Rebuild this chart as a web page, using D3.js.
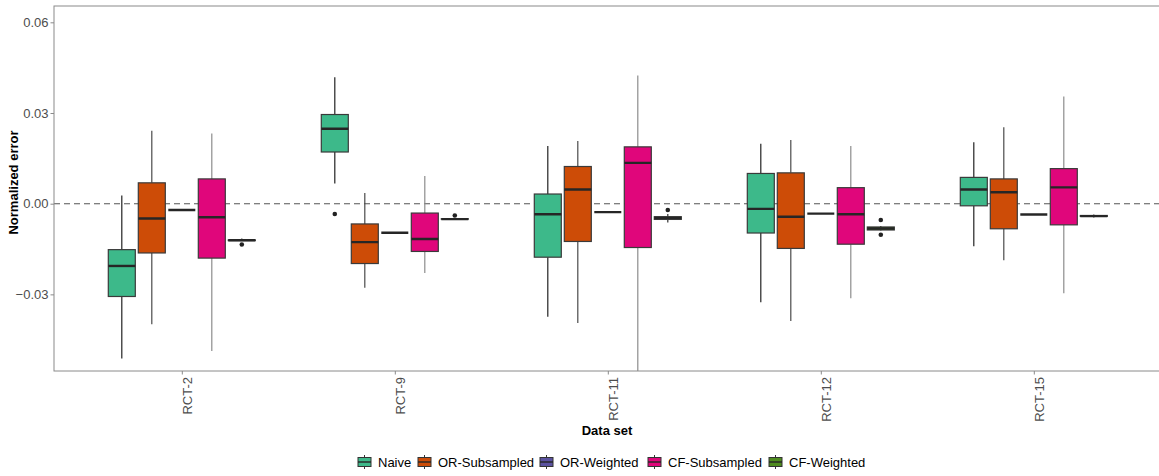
<!DOCTYPE html>
<html>
<head>
<meta charset="utf-8">
<script src="https://cdn.jsdelivr.net/npm/d3@7"></script>
<style>
  body { margin: 0; background: #fff; }
  svg { display: block; font-family: "Liberation Sans", Arial, sans-serif; }
</style>
</head>
<body>
<svg id="chart" width="1159" height="476"></svg>
<script>
// Data sets and estimation methods
const datasets = ["RCT-2", "RCT-9", "RCT-11", "RCT-12", "RCT-15"];
const methods = ["Naive", "OR-Subsampled", "OR-Weighted", "CF-Subsampled", "CF-Weighted"];
const methodColors = ["#3db98a", "#cd4c07", "#5b52a0", "#e0067b", "#4f8c1f"];
const whiskerColors = ["#222222", "#4a4a4a", "#333333", "#8c8c8c", "#333333"];

// Box statistics per data set: [lower whisker, Q1, median, Q3, upper whisker]
const naiveStats = [
  [-0.0512, -0.0307, -0.0206, -0.0152, 0.0027],
  [0.0067, 0.0171, 0.0248, 0.0295, 0.0418],
  [-0.0374, -0.0177, -0.0035, 0.0032, 0.0191],
  [-0.0326, -0.0097, -0.0017, 0.0100, 0.0198],
  [-0.0141, -0.0007, 0.0047, 0.0087, 0.0203]
];
const orSubStats = [
  [-0.0399, -0.0163, -0.0049, 0.0069, 0.0241],
  [-0.0278, -0.0198, -0.0127, -0.0067, 0.0035],
  [-0.0395, -0.0125, 0.0047, 0.0123, 0.0207],
  [-0.0388, -0.0148, -0.0043, 0.0102, 0.0211],
  [-0.0187, -0.0083, 0.0038, 0.0082, 0.0253]
];
const orWeightedStats = [
  [-0.0021, -0.0021, -0.0021, -0.0021, -0.0021],
  [-0.0096, -0.0096, -0.0096, -0.0096, -0.0096],
  [-0.0028, -0.0028, -0.0028, -0.0028, -0.0028],
  [-0.0033, -0.0033, -0.0033, -0.0033, -0.0033],
  [-0.0036, -0.0036, -0.0036, -0.0036, -0.0036]
];
const cfSubStats = [
  [-0.0487, -0.0180, -0.0045, 0.0082, 0.0232],
  [-0.0229, -0.0158, -0.0117, -0.0031, 0.0092],
  [-0.0650, -0.0145, 0.0135, 0.0188, 0.0424],
  [-0.0313, -0.0134, -0.0035, 0.0053, 0.0191],
  [-0.0296, -0.0070, 0.0054, 0.0116, 0.0355]
];
const cfWeightedStats = [
  [-0.0122, -0.0122, -0.0121, -0.0120, -0.0115],
  [-0.0051, -0.0051, -0.0051, -0.0050, -0.0050],
  [-0.0062, -0.0052, -0.0047, -0.0043, -0.0034],
  [-0.0089, -0.0087, -0.0082, -0.0077, -0.0074],
  [-0.0046, -0.0042, -0.0041, -0.0039, -0.0036]
];
// Outlying points: [data set, method, value]
const outliers = [
  ["RCT-2", "CF-Weighted", -0.0135],
  ["RCT-9", "Naive", -0.0034],
  ["RCT-9", "CF-Weighted", -0.0039],
  ["RCT-11", "CF-Weighted", -0.0021],
  ["RCT-12", "CF-Weighted", -0.0054],
  ["RCT-12", "CF-Weighted", -0.0103]
];
const yTicks = [-0.03, 0.00, 0.03, 0.06];

const allStats = [naiveStats, orSubStats, orWeightedStats, cfSubStats, cfWeightedStats];
const boxes = [];
methods.forEach((m, mi) => {
  datasets.forEach((d, di) => {
    const s = allStats[mi][di];
    boxes.push({ dataset: d, method: m, mi, lo: s[0], q1: s[1], med: s[2], q3: s[3], hi: s[4] });
  });
});

const svg = d3.select("#chart");
const panel = { left: 54, top: 6, right: 1161.6, bottom: 371 };

const x = d3.scalePoint().domain(datasets).range([panel.left, panel.right]).padding(0.6);
const xInner = d3.scaleBand().domain(methods).range([-75, 75]).paddingInner(0.1).paddingOuter(0.05);
const y = d3.scaleLinear().domain([-0.05535, 0.0654]).range([panel.bottom, panel.top]);

const defs = svg.append("defs");
defs.append("clipPath").attr("id", "plotclip")
  .append("rect")
  .attr("x", panel.left).attr("y", panel.top)
  .attr("width", panel.right - panel.left).attr("height", panel.bottom - panel.top);

// Reference line at zero
svg.append("line")
  .attr("x1", panel.left).attr("x2", panel.right)
  .attr("y1", y(0)).attr("y2", y(0))
  .attr("stroke", "#555").attr("stroke-width", 1.1)
  .attr("stroke-dasharray", "6,4");

const plot = svg.append("g").attr("clip-path", "url(#plotclip)");

const g = plot.selectAll("g.box").data(boxes).join("g")
  .attr("class", "box")
  .attr("transform", d => `translate(${x(d.dataset) + xInner(d.method)},0)`);

const bw = xInner.bandwidth();

// Whiskers
g.append("line")
  .attr("x1", bw / 2).attr("x2", bw / 2)
  .attr("y1", d => y(d.hi)).attr("y2", d => y(d.q3))
  .attr("stroke", d => whiskerColors[d.mi]).attr("stroke-width", 1.2);
g.append("line")
  .attr("x1", bw / 2).attr("x2", bw / 2)
  .attr("y1", d => y(d.q1)).attr("y2", d => y(d.lo))
  .attr("stroke", d => whiskerColors[d.mi]).attr("stroke-width", 1.2);

// Boxes
g.append("rect")
  .attr("x", 0).attr("width", bw)
  .attr("y", d => y(d.q3))
  .attr("height", d => Math.max(0, y(d.q1) - y(d.q3)))
  .attr("fill", d => methodColors[d.mi])
  .attr("stroke", "#3a3a3a").attr("stroke-width", 1.2);

// Medians
g.append("line")
  .attr("x1", 0).attr("x2", bw)
  .attr("y1", d => y(d.med)).attr("y2", d => y(d.med))
  .attr("stroke", "#262626").attr("stroke-width", 2.4);

// Outliers
plot.selectAll("circle.out").data(outliers).join("circle")
  .attr("class", "out")
  .attr("cx", d => x(d[0]) + xInner(d[1]) + bw / 2)
  .attr("cy", d => y(d[2]))
  .attr("r", 2.3)
  .attr("fill", "#222");

// Panel border
svg.append("rect")
  .attr("x", panel.left).attr("y", panel.top)
  .attr("width", panel.right - panel.left).attr("height", panel.bottom - panel.top)
  .attr("fill", "none").attr("stroke", "#8a8a8a").attr("stroke-width", 1);

// Y axis
const yAxis = svg.append("g")
  .attr("transform", `translate(${panel.left},0)`)
  .call(d3.axisLeft(y).tickValues(yTicks).tickFormat(d3.format(".2f")).tickSize(3.5).tickPadding(2));
yAxis.select(".domain").remove();
yAxis.selectAll(".tick line").attr("stroke", "#8a8a8a");
yAxis.selectAll(".tick text")
  .attr("fill", "#4d4d4d").style("font-size", "13px")
  .style("font-family", "'Liberation Sans', Arial, sans-serif");

// X axis
const xAxis = svg.append("g")
  .attr("transform", `translate(0,${panel.bottom})`)
  .call(d3.axisBottom(x).tickSize(3.5).tickSizeOuter(0));
xAxis.select(".domain").remove();
xAxis.selectAll(".tick line").attr("stroke", "#8a8a8a");
xAxis.selectAll(".tick text")
  .attr("fill", "#4d4d4d").style("font-size", "13px")
  .style("font-family", "'Liberation Sans', Arial, sans-serif")
  .attr("transform", "rotate(-90)")
  .attr("text-anchor", "end")
  .attr("x", -6).attr("y", 0).attr("dy", "0.36em")
  .attr("dx", 0);
xAxis.selectAll(".tick text").attr("y", 5);

// Axis titles
svg.append("text")
  .attr("x", (panel.left + 1162) / 2 - 1).attr("y", 435)
  .attr("text-anchor", "middle")
  .style("font-size", "13px").style("font-weight", "bold")
  .attr("fill", "#000")
  .text("Data set");

svg.append("text")
  .attr("transform", `translate(18,${(panel.top + panel.bottom) / 2 - 6}) rotate(-90)`)
  .attr("text-anchor", "middle")
  .style("font-size", "13px").style("font-weight", "bold")
  .attr("fill", "#000")
  .text("Normalized error");

// Legend
const legendX = [358, 418, 540, 648, 769];
const legendY = 462;
const lg = svg.append("g").selectAll("g").data(methods).join("g")
  .attr("transform", (d, i) => `translate(${legendX[i]},${legendY})`);
lg.append("line").attr("x1", 6.5).attr("x2", 6.5).attr("y1", -7).attr("y2", 7)
  .attr("stroke", "#333").attr("stroke-width", 1);
lg.append("rect").attr("x", 0).attr("y", -4.5).attr("width", 13).attr("height", 9)
  .attr("fill", (d, i) => methodColors[i]).attr("stroke", "#333").attr("stroke-width", 1);
lg.append("line").attr("x1", 0).attr("x2", 13).attr("y1", 0).attr("y2", 0)
  .attr("stroke", "#262626").attr("stroke-width", 1.4);
lg.append("text").attr("x", 20).attr("y", 0).attr("dy", "0.35em")
  .style("font-size", "13px").attr("fill", "#000")
  .text(d => d);
</script>
</body>
</html>
